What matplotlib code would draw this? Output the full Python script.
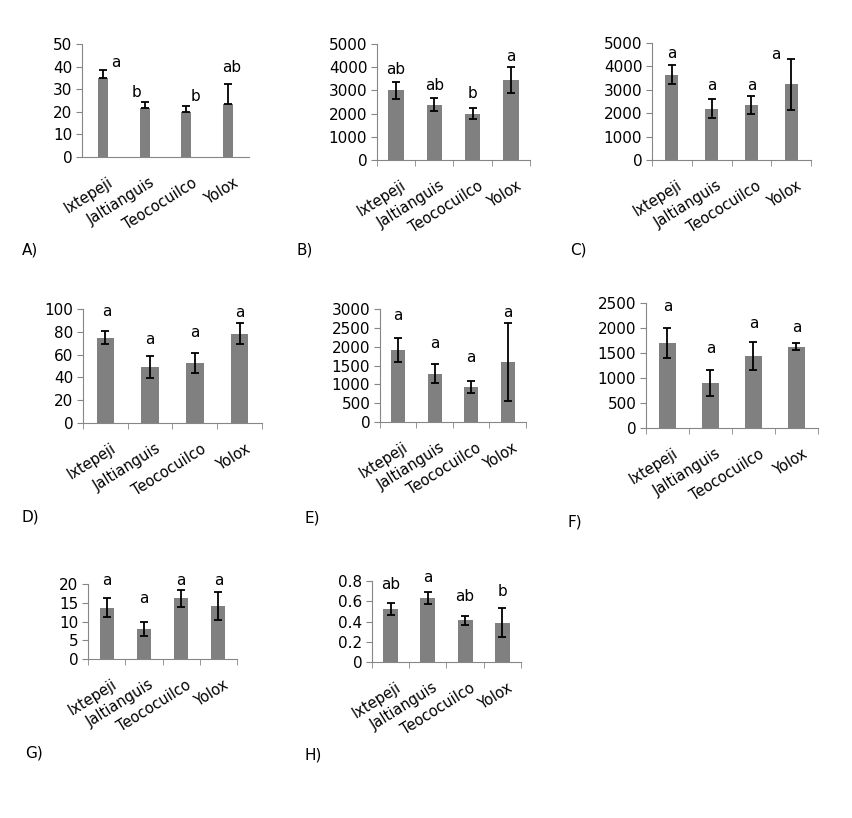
import numpy as np
import matplotlib
matplotlib.use('Agg')
import matplotlib.pyplot as plt

plt.rcParams['font.family'] = 'DejaVu Sans'
plt.rcParams['font.size'] = 10

sites = ['Ixtepeji', 'Jaltianguis', 'Teococuilco', 'Yolox']

# means and errors
mean_A = [34.8, 21.5, 19.8, 23.5]
err_A = [3.5, 2.7, 2.8, 8.8]
let_A = ['a', 'b', 'b', 'ab']

mean_B = [3000, 2380, 2000, 3440]
err_B = [350, 280, 250, 560]
let_B = ['ab', 'ab', 'b', 'a']

mean_C = [3650, 2200, 2350, 3230]
err_C = [400, 390, 370, 1080]
let_C = ['a', 'a', 'a', 'a']

mean_D = [75, 49, 52.5, 78.5]
err_D = [5.5, 9.5, 9, 9.5]
let_D = ['a', 'a', 'a', 'a']

mean_E = [1910, 1280, 920, 1590]
err_E = [330, 250, 160, 1040]
let_E = ['a', 'a', 'a', 'a']

mean_F = [1710, 900, 1440, 1630]
err_F = [300, 265, 280, 75]
let_F = ['a', 'a', 'a', 'a']

mean_G = [13.7, 8.0, 16.2, 14.1]
err_G = [2.6, 1.9, 2.3, 3.7]
let_G = ['a', 'a', 'a', 'a']

mean_H = [0.52, 0.635, 0.41, 0.39]
err_H = [0.06, 0.06, 0.04, 0.14]
let_H = ['ab', 'a', 'ab', 'b']

W, H = 853, 818
fig = plt.figure(figsize=(W/100, H/100), dpi=100)

gray = '#808080'
spine_c = '#868686'

def panel(box, means, errs, letters, ymax, ystep, width, letter_y, letter_dx,
          tag, tag_xy, plus_only=False, xticks=True, fmt='{:g}'):
    x0, y0, x1, y1 = box
    ax = fig.add_axes([x0/W, 1 - y1/H, (x1-x0)/W, (y1-y0)/H])
    x = np.arange(len(sites))
    ax.bar(x, means, width=width, color=gray, zorder=2)
    if plus_only:
        yerr = [np.zeros(len(errs)), errs]
    else:
        yerr = errs
    ax.errorbar(x, means, yerr=yerr, fmt='none', ecolor='black',
                elinewidth=1.3, capsize=3, capthick=1.3, zorder=3)
    for i in range(len(sites)):
        ax.text(x[i] + letter_dx[i], letter_y[i], letters[i],
                ha='center', va='center', fontsize=11)
    ax.set_xlim(-0.5, 3.5)
    ax.set_ylim(0, ymax)
    yt = np.arange(0, ymax + ystep/2, ystep)
    ax.set_yticks(yt)
    ax.set_yticklabels([fmt.format(round(v, 2)) for v in yt], fontsize=11)
    ax.set_xticks(x + 0.12)
    ax.set_xticklabels(sites, rotation=32, ha='right', va='top',
                       rotation_mode='anchor', fontsize=10.5)
    ax.tick_params(axis='x', length=0, pad=13)
    if xticks:
        ax.set_xticks(np.arange(-0.5, 4, 1), minor=True)
        ax.tick_params(axis='x', which='minor', length=4, color=spine_c)
    ax.tick_params(axis='y', length=4, color=spine_c, pad=3)
    for s in ['top', 'right']:
        ax.spines[s].set_visible(False)
    for s in ['left', 'bottom']:
        ax.spines[s].set_color(spine_c)
    fig.text(tag_xy[0]/W, 1 - tag_xy[1]/H, tag, ha='left', va='center',
             fontsize=11)
    return ax

panel((82, 44, 249, 157), mean_A, err_A, let_A, 50, 10, 0.24,
      [41.6, 28.5, 26.7, 39.7], [0.3, -0.2, 0.21, 0.08], 'A)', (22, 250),
      plus_only=True, xticks=False)
panel((377, 44, 530, 160), mean_B, err_B, let_B, 5000, 1000, 0.41,
      [3880, 3230, 2870, 4480], [0, 0, 0, 0], 'B)', (297, 250))
panel((652, 43, 811, 160), mean_C, err_C, let_C, 5000, 1000, 0.33,
      [4560, 3180, 3200, 4490], [0, 0, 0, -0.38], 'C)', (570, 250))
panel((83, 309, 262, 423), mean_D, err_D, let_D, 100, 20, 0.39,
      [97.6, 73.4, 79.5, 97], [0.04, 0, 0, 0], 'D)', (22, 517))
panel((380, 309, 526, 422), mean_E, err_E, let_E, 3000, 500, 0.37,
      [2840, 2090, 1720, 2900], [0, 0, 0, 0], 'E)', (305, 518))
panel((646, 303, 818, 428), mean_F, err_F, let_F, 2500, 500, 0.4,
      [2430, 1590, 2080, 2010], [0, 0, 0, 0], 'F)', (568, 522))
panel((88, 584, 237, 659), mean_G, err_G, let_G, 20, 5, 0.38,
      [20.9, 16.2, 20.9, 20.9], [0, 0, 0, 0], 'G)', (25, 753))
panel((372, 581, 521, 662), mean_H, err_H, let_H, 0.8, 0.2, 0.4,
      [0.77, 0.836, 0.645, 0.694], [0, 0, 0, 0], 'H)', (304, 755))

fig.savefig('out.png', dpi=100)
